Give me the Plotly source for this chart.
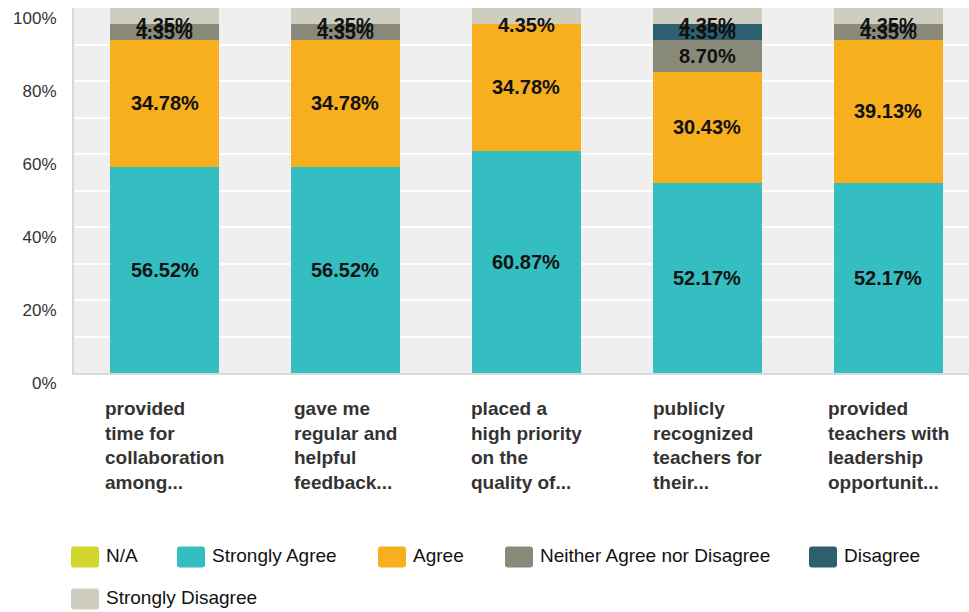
import plotly.graph_objects as go

# ---- data -------------------------------------------------------------
categories = [
    "provided time for collaboration among...",
    "gave me regular and helpful feedback...",
    "placed a high priority on the quality of...",
    "publicly recognized teachers for their...",
    "provided teachers with leadership opportunit...",
]
category_lines = [
    ["provided", "time for", "collaboration", "among..."],
    ["gave me", "regular and", "helpful", "feedback..."],
    ["placed a", "high priority", "on the", "quality of..."],
    ["publicly", "recognized", "teachers for", "their..."],
    ["provided", "teachers with", "leadership", "opportunit..."],
]
na_vals = [0, 0, 0, 0, 0]
strongly_agree = [56.52, 56.52, 60.87, 52.17, 52.17]
agree = [34.78, 34.78, 34.78, 30.43, 39.13]
neither = [4.35, 4.35, 0, 8.70, 4.35]
disagree = [0, 0, 0, 4.35, 0]
strongly_disagree = [4.35, 4.35, 4.35, 4.35, 4.35]
y_ticks = [0, 20, 40, 60, 80, 100]

# ---- styling ----------------------------------------------------------
series = [
    ("N/A", na_vals, "#d0d62a"),
    ("Strongly Agree", strongly_agree, "#35bec1"),
    ("Agree", agree, "#f7af1e"),
    ("Neither Agree nor Disagree", neither, "#8a8a7a"),
    ("Disagree", disagree, "#2e5f6e"),
    ("Strongly Disagree", strongly_disagree, "#cfcdbf"),
]

W, H = 969, 612
ML, MR, MT, MB = 74, 0, 8, 239
PW, PH = W - ML - MR, H - MT - MB
FONT = "Liberation Sans, Arial, sans-serif"


def px2x(px):
    return (px - ML) / PW


def py2y(py):
    return (H - MB - py) / PH


fig = go.Figure()
xs = list(range(len(categories)))
for name, vals, color in series:
    fig.add_trace(go.Bar(
        x=xs, y=vals, name=name, marker=dict(color=color, line=dict(width=0)),
        width=0.6, showlegend=False, hoverinfo="skip",
    ))

annotations = []
# value labels centred in each stacked segment
for i in xs:
    base = 0.0
    for name, vals, color in series:
        v = vals[i]
        if v > 0:
            top = base + v
            annotations.append(dict(
                x=i, y=base + v / 2, xref="x", yref="y",
                text=f"{v:.2f}%", showarrow=False,
                font=dict(family=FONT, size=20, color="#111111", weight="bold"),
                yshift=-9 if top >= 99.99 else 0,
            ))
            base = top

# multi-line category labels under the bars
for i, lines in enumerate(category_lines):
    annotations.append(dict(
        x=i, y=py2y(396), xref="x", yref="paper",
        text="<br>".join(lines), showarrow=False, align="left",
        xanchor="center", yanchor="top",
        font=dict(family=FONT, size=19, color="#333333", weight="bold"),
    ))

# legend drawn as rounded swatches with labels
legend_slots = [(71, 557), (177, 557), (378, 557), (505, 557), (809, 557), (71, 599)]
shapes = []
sw, sh, r = 28, 21, 3
for (name, vals, color), (lx, cy) in zip(series, legend_slots):
    x0, x1 = lx, lx + sw
    y0, y1 = cy - sh / 2, cy + sh / 2
    pts = [
        f"M{px2x(x0 + r)},{py2y(y0)}",
        f"L{px2x(x1 - r)},{py2y(y0)}",
        f"Q{px2x(x1)},{py2y(y0)} {px2x(x1)},{py2y(y0 + r)}",
        f"L{px2x(x1)},{py2y(y1 - r)}",
        f"Q{px2x(x1)},{py2y(y1)} {px2x(x1 - r)},{py2y(y1)}",
        f"L{px2x(x0 + r)},{py2y(y1)}",
        f"Q{px2x(x0)},{py2y(y1)} {px2x(x0)},{py2y(y1 - r)}",
        f"L{px2x(x0)},{py2y(y0 + r)}",
        f"Q{px2x(x0)},{py2y(y0)} {px2x(x0 + r)},{py2y(y0)}",
        "Z",
    ]
    shapes.append(dict(type="path", xref="paper", yref="paper", path=" ".join(pts),
                       fillcolor=color, line=dict(width=0)))
    annotations.append(dict(
        x=px2x(lx + 33), y=py2y(cy - 2), xref="paper", yref="paper",
        text=name, showarrow=False, xanchor="left", yanchor="middle",
        font=dict(family=FONT, size=19, color="#111111"),
    ))

fig.update_layout(
    width=W, height=H,
    margin=dict(l=ML, r=MR, t=MT, b=MB),
    barmode="stack",
    bargap=0.4,
    paper_bgcolor="white",
    plot_bgcolor="#efefef",
    font=dict(family=FONT),
    annotations=annotations,
    shapes=shapes,
    showlegend=False,
    xaxis=dict(
        range=[-0.5, 4.445], showticklabels=False, showgrid=False,
        zeroline=False, showline=True, linecolor="#d9d9d9", linewidth=2,
        fixedrange=True,
    ),
    yaxis=dict(
        range=[0, 100], tickvals=y_ticks,
        ticktext=[f"{t}%" for t in y_ticks],
        tickfont=dict(family=FONT, size=17, color="#333333"),
        showgrid=True, gridcolor="white", gridwidth=2,
        minor=dict(dtick=10, showgrid=True, gridcolor="white", gridwidth=2),
        zeroline=False, showline=True, linecolor="#d9d9d9", linewidth=2,
        ticklabelshift=10, ticklabelstandoff=12, ticklabeloverflow="allow",
        fixedrange=True,
    ),
)

fig.write_html("out.html")
